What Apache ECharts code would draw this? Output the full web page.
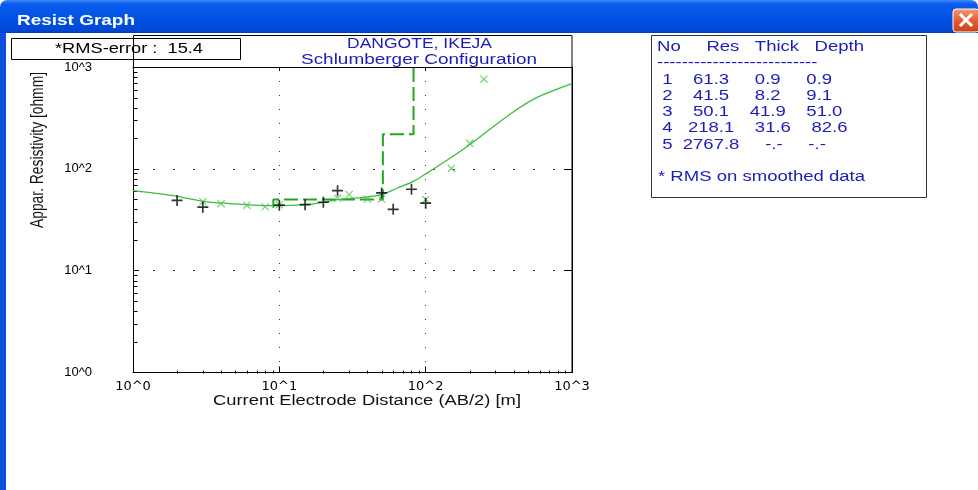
<!DOCTYPE html>
<html>
<head>
<meta charset="utf-8">
<script src="https://cdn.jsdelivr.net/npm/echarts@6/dist/echarts.min.js"></script>
<style>
  html, body { margin: 0; padding: 0; background: #fff; }
  #chart { width: 978px; height: 490px; }
</style>
</head>
<body>
<div id="chart"></div>
<script>
// ---- Sounding: DANGOTE, IKEJA (Schlumberger array) ----
const windowTitle = 'Resist Graph';
const surveyName = 'DANGOTE, IKEJA';
const arrayName = 'Schlumberger Configuration';
const rmsError = 15.4;

// Field readings: AB/2 [m] and apparent resistivity [ohm-m]
const obsAB  = [2, 3, 10, 15, 20, 25, 50, 60, 80, 100];
const obsRho = [49, 42, 44, 44.5, 47, 61, 58, 40, 63, 46];

// Smoothed apparent resistivity
const smoothAB  = [3, 4, 6, 8, 10, 25, 30, 40, 50, 100, 150, 200, 250];
const smoothRho = [47.5, 45.5, 44, 42.5, 44.5, 51.5, 56, 50.5, 50.5, 50, 101, 178, 760];

// Calculated response of the layered model
const modelAB  = [1, 1.5, 2, 3, 4.6, 7.75, 10, 15, 20, 25, 37.5, 50, 64, 82.5, 102, 150, 202, 377, 573, 1000];
const modelRho = [61, 57, 53.7, 48, 45.6, 43.6, 43.6, 44.6, 46.9, 49.9, 52.5, 55.8, 64.8, 75.3, 90.8, 130, 174.6, 344, 500, 686];

// Layered earth model (last layer is the half-space)
const layerNo    = [1, 2, 3, 4, 5];
const layerRes   = [61.3, 41.5, 50.1, 218.1, 2767.8];
const layerThick = [0.9, 8.2, 41.9, 31.6];
const layerDepth = [0.9, 9.1, 51.0, 82.6];

// Axis decades, their labels and the minor tick multipliers
const decades = [1, 10, 100, 1000];
const tickLabels = ['10^0', '10^1', '10^2', '10^3'];
const minorSteps = [2, 3, 4, 5, 6, 7, 8, 9];

// ---- derived series ----
const pairs = (xs, ys) => xs.map((x, i) => [x, ys[i]]);

// step profile of the model, traced from the second interface downwards;
// the half-space runs off the top of the plot
const firstInterface = 1;
const stepData = [];
for (let i = firstInterface; i < layerDepth.length; i++) {
  stepData.push([layerDepth[i], layerRes[i]], [layerDepth[i], layerRes[i + 1]]);
  const next = i + 1 < layerDepth.length ? layerDepth[i + 1] : layerDepth[i] * 100;
  stepData.push([next, layerRes[i + 1]]);
}

const xMinor = [], yMinor = [];
decades.slice(0, -1).forEach(d => minorSteps.forEach(m => {
  xMinor.push([d * m, decades[0]]);
  yMinor.push([decades[0], d * m]);
}));

const decadeLabel = v => tickLabels[decades.indexOf(Math.pow(10, Math.round(Math.log10(v))))] || '';

// ---- text helpers (window uses a wide screen font) ----
const measureCtx = document.createElement('canvas').getContext('2d');
function naturalWidth(str, size, family, weight) {
  measureCtx.font = `${weight || 'normal'} ${size}px "${family}"`;
  return measureCtx.measureText(str).width;
}
function textEl(str, x, y, o) {
  o = o || {};
  const size = o.size || 13, family = o.family || 'Liberation Sans', weight = o.weight || 'normal';
  const sx = o.scaleX || (o.width ? o.width / naturalWidth(str, size, family, weight) : 1);
  return {
    type: 'text', x: x, y: y, scaleX: sx, scaleY: o.scaleY || 1, rotation: o.rotation || 0,
    silent: true, z: 20,
    style: { text: str, fill: o.color || '#000', fontSize: size, fontFamily: family, fontWeight: weight,
             align: o.align || 'left', verticalAlign: 'middle' }
  };
}
const pad = (s, n) => String(s).padStart(n, ' ');

// ---- table text ----
const tableColor = '#1c1cbc';
const tableSize = 14;
const tableFoot = '* RMS on smoothed data';
const tableScale = 207 / naturalWidth(tableFoot, tableSize, 'Liberation Sans');
const tableLines = [
  'No     Res   Thick   Depth',
  '--------------------------'
];
layerRes.forEach((r, i) => {
  const t = i < layerThick.length ? layerThick[i].toFixed(1) : '-.-';
  const d = i < layerDepth.length ? layerDepth[i].toFixed(1) : '-.-';
  tableLines.push(pad(layerNo[i], 2) + pad(r.toFixed(1), 8) + pad(t, 8) + pad(d, 8));
});
const tableRowY = [47, 63, 80, 96, 112, 128, 145];

const graphics = [
  // window title bar
  { type: 'rect', z: 1, silent: true, shape: { x: 0, y: 0, width: 978, height: 33, r: [7, 7, 0, 0] },
    style: { fill: new echarts.graphic.LinearGradient(0, 0, 0, 1, [
      { offset: 0, color: '#3c8cf8' }, { offset: 0.12, color: '#0b5ced' },
      { offset: 0.55, color: '#0052e4' }, { offset: 0.9, color: '#0049d6' }, { offset: 1, color: '#003fc0' }]) } },
  { type: 'rect', z: 1, silent: true, shape: { x: 0, y: 33, width: 6, height: 457 },
    style: { fill: '#0c4fdc' } },
  textEl(windowTitle, 17, 21, { size: 15, weight: 'bold', color: '#fff', width: 118 }),
  // close button
  { type: 'rect', z: 2, silent: true, shape: { x: 953, y: 9, width: 26, height: 23, r: 3 },
    style: { fill: new echarts.graphic.LinearGradient(0, 0, 0, 1, [
      { offset: 0, color: '#f39a77' }, { offset: 0.5, color: '#e35d35' }, { offset: 1, color: '#c8421c' }]),
      stroke: '#fff', lineWidth: 1 } },
  { type: 'line', z: 3, silent: true, shape: { x1: 960, y1: 14, x2: 972, y2: 26 }, style: { stroke: '#fff', lineWidth: 3 } },
  { type: 'line', z: 3, silent: true, shape: { x1: 972, y1: 14, x2: 960, y2: 26 }, style: { stroke: '#fff', lineWidth: 3 } },

  // RMS box
  { type: 'rect', z: 5, silent: true, shape: { x: 11.5, y: 38.5, width: 229, height: 21 },
    style: { fill: '#fff', stroke: '#000', lineWidth: 1 } },
  textEl('*RMS-error :  ' + rmsError.toFixed(1), 129, 49, { size: 14, width: 148, align: 'center' }),

  // plot frame incl. header strip
  { type: 'rect', z: 5, silent: true, shape: { x: 133.5, y: 35.5, width: 438.5, height: 337 },
    style: { fill: 'none', stroke: '#000', lineWidth: 1 } },
  textEl(surveyName, 419.5, 44.5, { size: 14, width: 145, align: 'center', color: tableColor }),
  textEl(arrayName, 419, 60, { size: 14, width: 236, align: 'center', color: tableColor }),

  // axis names
  textEl('Appar. Resistivity [ohmm]', 38, 150, { size: 14, width: 156, align: 'center', rotation: Math.PI / 2, scaleY: 1.3, color: '#111' }),
  textEl('Current Electrode Distance (AB/2) [m]', 367, 401, { size: 14, width: 308, align: 'center', color: '#111' }),

  // layer table
  { type: 'rect', z: 5, silent: true, shape: { x: 651.5, y: 35.5, width: 275, height: 162 },
    style: { fill: '#fff', stroke: '#333', lineWidth: 1 } }
];
tableLines.forEach((line, i) => {
  graphics.push(textEl(line, 657, tableRowY[i], { size: tableSize, scaleX: tableScale, color: tableColor }));
});
graphics.push(textEl(tableFoot, 658, 177, { size: tableSize, scaleX: tableScale, color: tableColor }));

// ---- chart ----
const chart = echarts.init(document.getElementById('chart'), null, { renderer: 'canvas' });

const tickLine = (vertical, len) => (params, api) => {
  const p = api.coord([api.value(0), api.value(1)]);
  const x = Math.round(p[0]) + 0.5, y = Math.round(p[1]) + 0.5;
  return {
    type: 'line',
    shape: vertical ? { x1: x, y1: y, x2: x, y2: y - len } : { x1: x, y1: y, x2: x + len, y2: y },
    style: { stroke: '#000', lineWidth: 1 }
  };
};

const logAxis = extra => Object.assign({
  type: 'log', logBase: 10, min: 1, max: 1000,
  axisLine: { show: true, onZero: false, lineStyle: { color: '#000', width: 1 } },
  axisTick: { show: true, inside: true, length: 6, lineStyle: { color: '#000' } },
  minorTick: { show: false },
  splitLine: { show: false }
}, extra);

chart.setOption({
  animation: false,
  backgroundColor: '#fff',
  grid: { left: 133, right: 406, top: 67, bottom: 117.5, containLabel: false },
  xAxis: [
    logAxis({
      position: 'bottom',
      axisLabel: { margin: 8, color: '#000', fontFamily: 'DejaVu Sans', fontSize: 13, formatter: decadeLabel },
      splitLine: { show: true, lineStyle: { color: '#333', type: [1, 13], width: 1 } }
    }),
    logAxis({ position: 'top', axisTick: { show: true, inside: true, length: 4, lineStyle: { color: '#000' } },
              axisLabel: { show: false } })
  ],
  yAxis: [
    logAxis({
      position: 'left',
      axisLabel: { margin: 41, color: '#000', fontFamily: 'Liberation Sans', fontSize: 13, formatter: decadeLabel },
      splitLine: { show: true, lineStyle: { color: '#333', type: [2, 18], width: 1 } }
    }),
    logAxis({ position: 'right', axisTick: { show: true, inside: true, length: 8, lineStyle: { color: '#000' } },
              axisLabel: { show: false } })
  ],
  series: [
    { name: 'minor-x', type: 'custom', silent: true, clip: false, data: xMinor, renderItem: tickLine(true, 3), z: 4 },
    { name: 'minor-y', type: 'custom', silent: true, clip: false, data: yMinor, renderItem: tickLine(false, 4), z: 4 },
    { name: 'Model', type: 'line', data: stepData, symbol: 'none', clip: true, z: 5,
      lineStyle: { color: '#22a622', width: 2, type: [14, 5] } },
    { name: 'Calculated', type: 'line', data: pairs(modelAB, modelRho), symbol: 'none', smooth: 0.3, clip: true, z: 6,
      lineStyle: { color: '#3dbb3d', width: 1.3 } },
    { name: 'Smoothed', type: 'scatter', data: pairs(smoothAB, smoothRho), z: 7,
      symbol: 'path://M0,1 L1,0 L10,9 L9,10 Z M9,0 L10,1 L1,10 L0,9 Z', symbolSize: 8,
      itemStyle: { color: '#4cc34c' } },
    { name: 'Observed', type: 'scatter', data: pairs(obsAB, obsRho), z: 8,
      symbol: 'path://M4.25,0 h1.5 v10 h-1.5 Z M0,4.25 h10 v1.5 h-10 Z', symbolSize: 11,
      itemStyle: { color: '#000' } }
  ],
  graphic: graphics
});
</script>
</body>
</html>
